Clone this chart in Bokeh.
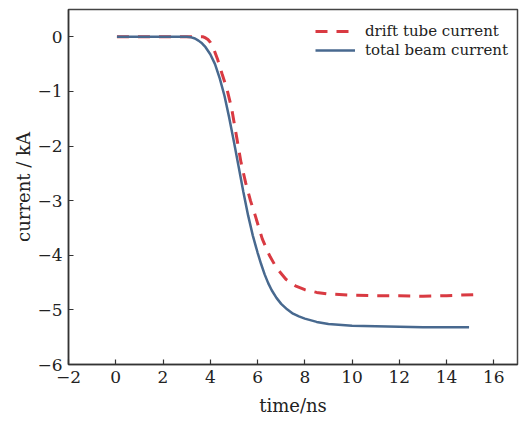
from bokeh.plotting import figure
from bokeh.models import Range1d, FixedTicker, Legend, LegendItem
from bokeh.embed import file_html
from bokeh.resources import INLINE

# total beam current (kA) vs time (ns)
beam_t = [0.05, 3.0, 3.2, 3.35, 3.5, 3.65, 3.8, 4.0, 4.2, 4.4, 4.6, 4.8, 5.0, 5.2, 5.4, 5.6, 5.8,
          6.0, 6.15, 6.3, 6.45, 6.6, 6.8, 7.0, 7.25, 7.5, 7.75, 8.0, 8.5, 9.0, 10.0, 11.0, 12.0, 13.0, 14.0, 14.95]
beam_i = [0.0, 0.0, -0.01, -0.03, -0.07, -0.12, -0.19, -0.32, -0.5, -0.76, -1.08, -1.48, -1.92, -2.38, -2.84, -3.27, -3.64,
          -3.95, -4.16, -4.35, -4.51, -4.64, -4.78, -4.89, -4.99, -5.07, -5.12, -5.16, -5.22, -5.26, -5.29, -5.30, -5.31, -5.32, -5.32, -5.32]

# drift tube current (kA) vs time (ns)
drift_t = [0.05, 3.7, 3.8, 3.9, 4.0, 4.1, 4.3, 4.5, 4.7, 4.9, 5.1, 5.3, 5.5, 5.7, 5.9, 6.2, 6.5,
           6.8, 7.2, 7.6, 8.0, 8.5, 9.0, 10.0, 11.0, 12.0, 13.0, 14.0, 15.2]
drift_i = [0.0, 0.0, -0.02, -0.05, -0.1, -0.17, -0.4, -0.68, -0.95, -1.3, -1.8, -2.3, -2.68, -3.0, -3.27, -3.7, -4.0,
           -4.23, -4.44, -4.56, -4.63, -4.68, -4.71, -4.73, -4.74, -4.74, -4.75, -4.74, -4.72]

x_ticks = [-2, 0, 2, 4, 6, 8, 10, 12, 14, 16]
y_ticks = [-6, -5, -4, -3, -2, -1, 0]

FONT = "DejaVu Serif"

p = figure(width=520, height=418, output_backend="svg", toolbar_location=None,
           x_range=Range1d(-2, 17), y_range=Range1d(-6, 0.5),
           min_border_left=68, min_border_right=3, min_border_top=9, min_border_bottom=10)
p.grid.visible = False
p.background_fill_color = "white"
p.border_fill_color = "white"
p.outline_line_color = "#444444"
p.outline_line_width = 1.5

for ax in (p.xaxis[0], p.yaxis[0]):
    ax.axis_line_color = "#333333"
    ax.axis_line_width = 1.5
    ax.major_tick_in = 5
    ax.major_tick_out = 0
    ax.major_tick_line_color = "#333333"
    ax.major_tick_line_width = 1.2
    ax.minor_tick_line_color = None
    ax.major_label_text_font = FONT
    ax.major_label_text_font_size = "17px"
    ax.major_label_text_color = "#222222"
    ax.axis_label_text_font = FONT
    ax.axis_label_text_font_size = "18px"
    ax.axis_label_text_font_style = "normal"
    ax.axis_label_text_color = "#222222"
    ax.major_label_standoff = 6

p.xaxis.ticker = FixedTicker(ticks=x_ticks)
p.yaxis.ticker = FixedTicker(ticks=y_ticks)
p.xaxis.axis_label = "time/ns"
p.yaxis.axis_label = "current / kA"
p.xaxis.axis_label_standoff = 9
p.yaxis.axis_label_standoff = 0
p.xaxis.major_label_overrides = {t: str(t).replace("-", "\u2212") for t in x_ticks}
p.yaxis.major_label_overrides = {t: str(t).replace("-", "\u2212") for t in y_ticks}

r_drift = p.line(drift_t, drift_i, line_color="#d93a42", line_width=3, line_dash="12 9")
r_beam = p.line(beam_t, beam_i, line_color="#48698f", line_width=2.5)

for label, rend, loc in (("drift tube current", r_drift, (247, 324)),
                         ("total beam current", r_beam, (247, 305))):
    lg = Legend(items=[LegendItem(label=label, renderers=[rend])], location=loc)
    lg.label_text_font = FONT
    lg.label_text_font_size = "15px"
    lg.label_text_color = "#222222"
    lg.border_line_color = None
    lg.background_fill_alpha = 0
    lg.glyph_width = 40
    lg.glyph_height = 18
    lg.label_height = 18
    lg.padding = 2
    lg.margin = 0
    lg.label_standoff = 10
    p.add_layout(lg)

open("out.html", "w").write(file_html(p, INLINE))
